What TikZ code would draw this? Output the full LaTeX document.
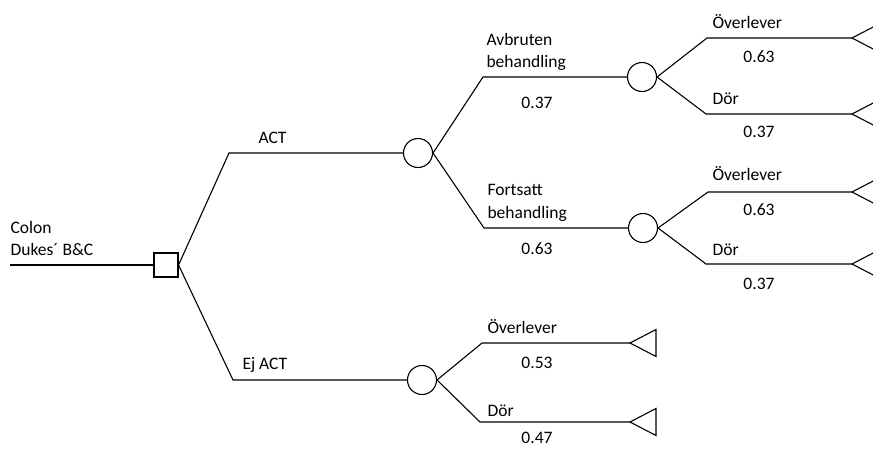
\documentclass[tikz,border=0pt]{standalone}
\usepackage{fontspec}
\setmainfont{Carlito}
\usetikzlibrary{positioning}

\begin{document}
\begin{tikzpicture}[x=1pt, y=-1pt, line width=1.1pt,
  font=\fontsize{17.5}{21}\selectfont,
  decn/.style={draw, rectangle, minimum size=24pt, inner sep=0pt},
  chance/.style={draw, circle, minimum size=29pt, inner sep=0pt},
  lbl/.style={anchor=base west, inner sep=0pt},
  prob/.style={anchor=base, inner sep=0pt},
  term/.pic={\draw (0,0) -- (26,-13.5) -- (26,13.5) -- cycle;}]
\useasboundingbox (0,0) rectangle (873,448);
% decision and chance nodes
\coordinate (root) at (10,265);
\node[decn] (dec) at (166,265) {};
\node[chance] (act) at (418,153) {};
\node[chance] (ejact) at (422,380) {};
\node[chance] (avb) at (642,77) {};
\node[chance] (forts) at (643,228) {};
% corners of the branches
\coordinate (kAct) at (229,153);
\coordinate (kEj) at (233,380);
\coordinate (kAvb) at (483,77);
\coordinate (kFor) at (484,228);
\coordinate (kA1) at (707,38);
\coordinate (kA2) at (706,114);
\coordinate (kF1) at (708,192);
\coordinate (kF2) at (706,264);
\coordinate (kE1) at (482,343);
\coordinate (kE2) at (480,422);
% end points
\coordinate (tA1) at (852,38);
\coordinate (tA2) at (852,114);
\coordinate (tF1) at (852,192);
\coordinate (tF2) at (852,264);
\coordinate (tE1) at (630,343);
\coordinate (tE2) at (630,422);
\foreach \t in {tA1,tA2,tF1,tF2,tE1,tE2} \pic at (\t) {term};
% branches
\draw (root) -- (dec);
\draw (dec.east) -- (kAct) -- (act);
\draw (dec.east) -- (kEj) -- (ejact);
\draw (act.east) -- (kAvb) -- (avb);
\draw (act.east) -- (kFor) -- (forts);
\draw (avb.east) -- (kA1) -- (tA1);
\draw (avb.east) -- (kA2) -- (tA2);
\draw (forts.east) -- (kF1) -- (tF1);
\draw (forts.east) -- (kF2) -- (tF2);
\draw (ejact.east) -- (kE1) -- (tE1);
\draw (ejact.east) -- (kE2) -- (tE2);
% labels
\node[lbl] (lColon) at (10,233) {Colon};
\node[lbl] (lDukes) at (10,255) {Dukes´ B\&C};
\node[lbl] (lAct) at (258,143) {ACT};
\node[lbl] (lEj) at (242,369) {Ej ACT};
\node[lbl] (lAvb) at (486,45) {Avbruten};
\node[lbl] (lAvb2) at (486,67) {behandling};
\node[prob] (pAvb) at (537,108) {0.37};
\node[lbl] (lFor) at (487,195) {Fortsatt};
\node[lbl] (lFor2) at (487,218) {behandling};
\node[prob] (pFor) at (537,254) {0.63};
\node[lbl] (lA1) at (712,28) {Överlever};
\node[prob] (pA1) at (759,62) {0.63};
\node[lbl] (lA2) at (712,104) {Dör};
\node[prob] (pA2) at (759,137) {0.37};
\node[lbl] (lF1) at (712,180) {Överlever};
\node[prob] (pF1) at (759,215) {0.63};
\node[lbl] (lF2) at (712,255) {Dör};
\node[prob] (pF2) at (759,289) {0.37};
\node[lbl] (lE1) at (487,333) {Överlever};
\node[prob] (pE1) at (537,368) {0.53};
\node[lbl] (lE2) at (487,416) {Dör};
\node[prob] (pE2) at (537,443) {0.47};
\end{tikzpicture}
\end{document}
